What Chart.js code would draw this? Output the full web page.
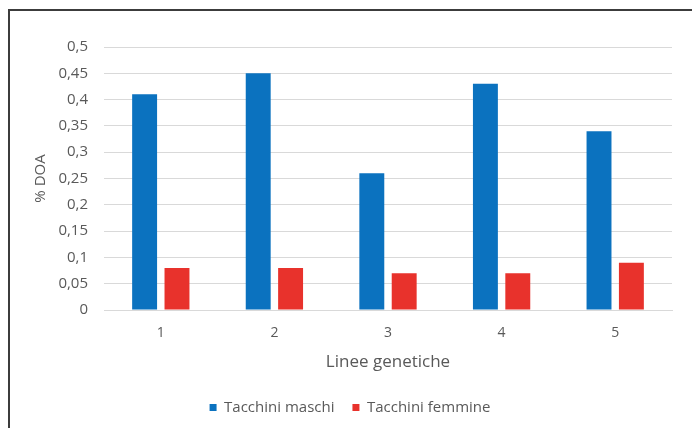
<!DOCTYPE html>
<html>
<head>
<meta charset="utf-8">
<script src="https://cdn.jsdelivr.net/npm/chart.js@4/dist/chart.umd.min.js"></script>
<style>
  html, body { margin: 0; padding: 0; background: #fff; }
  #wrap { position: relative; width: 692px; height: 428px; overflow: hidden; }
  #frame { position: absolute; left: 8px; top: 9px; width: 700px; height: 440px;
           border-left: 2px solid #3c3c3c; border-top: 2px solid #3c3c3c; }
  canvas { position: absolute; left: 0; top: 0; }
</style>
</head>
<body>
<div id="wrap">
  <div id="frame"></div>
  <canvas id="chart" width="692" height="428"></canvas>
</div>
<script>
// dati
const linee = ['1', '2', '3', '4', '5'];
const maschi = [0.41, 0.45, 0.26, 0.43, 0.34];
const femmine = [0.08, 0.08, 0.07, 0.07, 0.09];

const textColor = '#595959';
const font = 'Open Sans, Liberation Sans, sans-serif';

function virgola(v) {
  return String(Math.round(v * 100) / 100).replace('.', ',');
}

new Chart(document.getElementById('chart'), {
  type: 'bar',
  data: {
    labels: linee,
    datasets: [
      { label: 'Tacchini maschi', data: maschi, backgroundColor: '#0b72bf' },
      { label: 'Tacchini femmine', data: femmine, backgroundColor: '#e8322c' }
    ]
  },
  options: {
    responsive: false,
    animation: false,
    datasets: { bar: { categoryPercentage: 0.57, barPercentage: 0.77 } },
    layout: { padding: { left: 28, right: 20, top: 47, bottom: 3 } },
    plugins: {
      tooltip: { enabled: false },
      legend: {
        position: 'bottom',
        labels: {
          boxWidth: 7, boxHeight: 7, padding: 18,
          color: textColor,
          font: { family: font, size: 15 }
        }
      }
    },
    scales: {
      x: {
        grid: { display: false, drawTicks: false },
        border: { color: '#d9d9d9' },
        ticks: { color: textColor, padding: 15, font: { family: font, size: 14 } },
        title: { display: true, text: 'Linee genetiche', color: textColor, padding: { top: 4, bottom: 10 },
                 font: { family: font, size: 17 } },
        afterFit: s => { s.height = 72; }
      },
      y: {
        min: 0, max: 0.5,
        ticks: { stepSize: 0.05, color: textColor, padding: 16,
                 font: { family: font, size: 15 }, callback: v => virgola(v) },
        grid: { color: '#d9d9d9', drawTicks: false },
        border: { display: false },
        title: { display: true, text: '% DOA', color: textColor,
                 font: { family: font, size: 15 } },
        afterFit: s => { s.width = 76; }
      }
    }
  }
});
</script>
</body>
</html>
